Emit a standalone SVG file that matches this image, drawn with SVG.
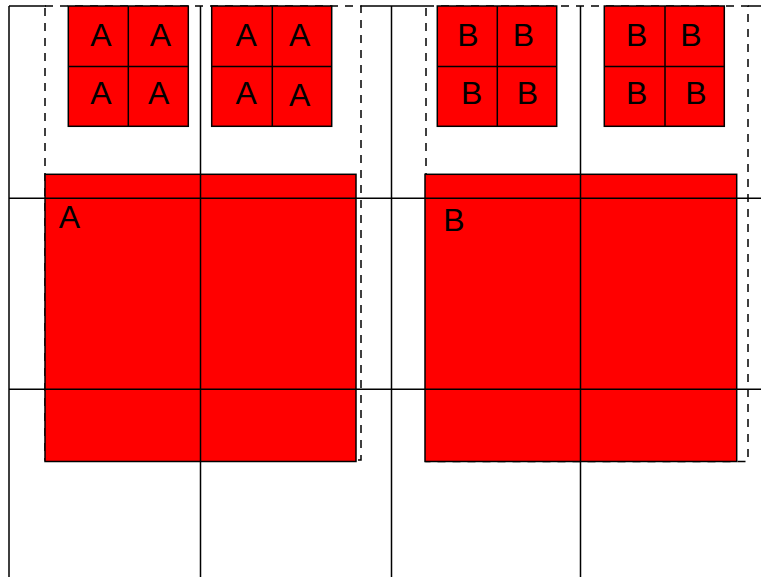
<svg xmlns="http://www.w3.org/2000/svg" width="761" height="577" viewBox="0 0 761 577">
<style>
.bg{fill:#ffffff}
.frame{fill:none;stroke:#000;stroke-width:1.5;stroke-dasharray:8,7}
.solid{fill:none;stroke:#000;stroke-width:1.5}
.tile{fill:#ff0000;stroke:#000;stroke-width:1.5}
.div{stroke:#000;stroke-width:1.5}
.grid{stroke:#000;stroke-width:1.5;fill:none}
.lbl{font-family:"Liberation Sans",Arial,sans-serif;font-size:32px;fill:#000;text-anchor:middle}
</style>
<rect class="bg" x="0" y="0" width="761" height="577"/>

<g id="frames">
  <rect class="frame" x="45" y="6" width="316" height="454"/>
  <rect class="frame" x="426" y="6" width="322" height="455.5"/>
  <path class="solid" d="M9 6H46M361 6H426M748 6H761"/>
</g>

<g id="tiles-A-1">
  <rect class="tile" x="68.3" y="6" width="120" height="120.3"/>
  <path class="div" d="M128.3 6V126.3M68.3 66.5H188.3"/>
  <text class="lbl" x="101" y="45.7">A</text>
  <text class="lbl" x="160.3" y="45.7">A</text>
  <text class="lbl" x="101" y="104.3">A</text>
  <text class="lbl" x="158.7" y="104.3">A</text>
</g>

<g id="tiles-A-2">
  <rect class="tile" x="211.7" y="6" width="120" height="120.3"/>
  <path class="div" d="M272.3 6V126.3M211.7 66.5H331.7"/>
  <text class="lbl" x="246.2" y="45.7">A</text>
  <text class="lbl" x="299.7" y="45.7">A</text>
  <text class="lbl" x="246.2" y="104.3">A</text>
  <text class="lbl" x="299.7" y="106">A</text>
</g>

<g id="tiles-B-1">
  <rect class="tile" x="437.3" y="6" width="119.4" height="120.3"/>
  <path class="div" d="M497.3 6V126.3M437.3 66.5H556.7"/>
  <text class="lbl" x="467.8" y="45.7">B</text>
  <text class="lbl" x="523.3" y="45.7">B</text>
  <text class="lbl" x="471.7" y="104.3">B</text>
  <text class="lbl" x="527.5" y="104.3">B</text>
</g>

<g id="tiles-B-2">
  <rect class="tile" x="604.3" y="6" width="120" height="120.3"/>
  <path class="div" d="M665 6V126.3M604.3 66.5H724.3"/>
  <text class="lbl" x="636.7" y="45.7">B</text>
  <text class="lbl" x="691" y="45.7">B</text>
  <text class="lbl" x="636.7" y="104.3">B</text>
  <text class="lbl" x="696" y="104.3">B</text>
</g>

<g id="big-A">
  <rect class="tile" x="45" y="174.3" width="311" height="287.2"/>
  <text class="lbl" x="69.3" y="227.7">A</text>
</g>

<g id="big-B">
  <rect class="tile" x="425" y="174.3" width="311.7" height="287.2"/>
  <text class="lbl" x="453.8" y="231">B</text>
</g>

<g id="connectors">
  <path class="grid" d="M9 6V577M200.5 6V577M391.5 6V577M580.5 6V577"/>
  <path class="grid" d="M9 198.3H761M9 389.3H761"/>
</g>
</svg>
